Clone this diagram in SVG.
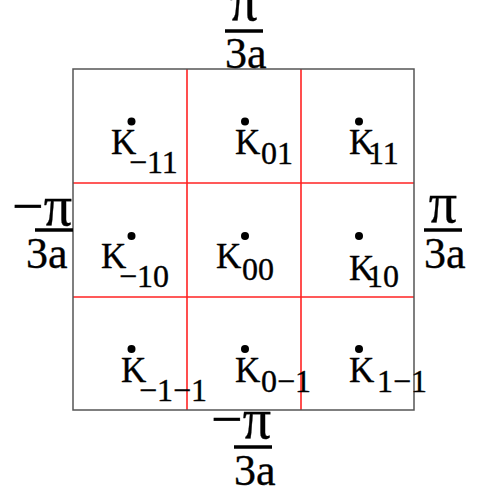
<svg xmlns="http://www.w3.org/2000/svg" width="484" height="498" viewBox="0 0 484 498">
<style>
text{fill:#000;stroke:#000;stroke-width:0.35}
.k{font-size:35px}
.s{font-size:32px}
.d{font-size:44px}
.p{font-size:56px}
.bar{stroke:#000;stroke-width:3.5}
.red{stroke:#f22;stroke-width:1.6;fill:none}
</style>
<rect width="484" height="498" fill="#fff"/>
<g id="grid">
<line class="red" x1="187" y1="69" x2="187" y2="410"/>
<line class="red" x1="301" y1="69" x2="301" y2="410"/>
<line class="red" x1="73" y1="183" x2="414" y2="183"/>
<line class="red" x1="73" y1="297" x2="414" y2="297"/>
<rect x="73" y="69" width="341" height="341" fill="none" stroke="#555" stroke-width="1.5"/>
</g>
<g font-family="Liberation Serif, Tinos, Times New Roman, Times, serif" fill="#000">
<g id="top-label">
<text class="p" x="244" y="20" text-anchor="middle">π</text>
<line class="bar" x1="225" y1="31" x2="263" y2="31"/>
<text class="d" x="225" y="68">3a</text>
</g>
<g id="bottom-label">
<text class="p" x="241" y="438" text-anchor="middle">−π</text>
<line class="bar" x1="234" y1="447" x2="272" y2="447"/>
<text class="d" x="234" y="485">3a</text>
</g>
<g id="left-label">
<text class="p" x="42" y="225" text-anchor="middle">−π</text>
<line class="bar" x1="35" y1="230" x2="73" y2="230"/>
<text class="d" x="26" y="268">3a</text>
</g>
<g id="right-label">
<text class="p" x="443" y="222" text-anchor="middle">π</text>
<line class="bar" x1="424" y1="230" x2="462" y2="230"/>
<text class="d" x="424" y="268">3a</text>
</g>
<g id="K-1_1">
<circle cx="131.5" cy="121.5" r="4"/>
<text class="k" x="111" y="154">K</text>
<text class="s" x="129" y="173">−11</text>
</g>
<g id="K0_1">
<circle cx="245" cy="121.5" r="4"/>
<text class="k" x="235" y="154">K</text>
<text class="s" x="261" y="164">01</text>
</g>
<g id="K1_1">
<circle cx="359" cy="121.5" r="4"/>
<text class="k" x="349" y="154">K</text>
<text class="s" x="368" y="164">11</text>
</g>
<g id="K-1_0">
<circle cx="131.5" cy="236" r="4"/>
<text class="k" x="101" y="268">K</text>
<text class="s" x="119" y="287">−10</text>
</g>
<g id="K0_0">
<circle cx="245" cy="236" r="4"/>
<text class="k" x="216" y="268">K</text>
<text class="s" x="242" y="280">00</text>
</g>
<g id="K1_0">
<circle cx="359" cy="236" r="4"/>
<text class="k" x="349" y="280">K</text>
<text class="s" x="367" y="287">10</text>
</g>
<g id="K-1_-1">
<circle cx="131.5" cy="349" r="4"/>
<text class="k" x="121" y="382">K</text>
<text class="s" x="139" y="401">−1−1</text>
</g>
<g id="K0_-1">
<circle cx="245" cy="349" r="4"/>
<text class="k" x="235" y="382">K</text>
<text class="s" x="261" y="392">0−1</text>
</g>
<g id="K1_-1">
<circle cx="359" cy="349" r="4"/>
<text class="k" x="349" y="382">K</text>
<text class="s" x="377" y="392">1−1</text>
</g>
</g>
</svg>
